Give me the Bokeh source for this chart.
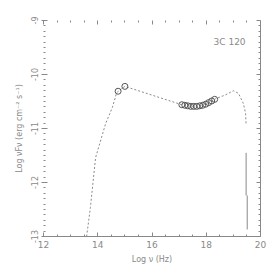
from bokeh.plotting import figure
from bokeh.models import LinearAxis, FixedTicker, Range1d, CustomJSTickFormatter
from bokeh.embed import file_html
from bokeh.resources import INLINE
from bokeh.core.properties import value

# SED model curve (log nu, log nuFnu)
curve_x = [13.59, 13.73, 13.92, 14.29, 14.54, 14.69, 14.75, 15.00, 17.10, 17.43, 17.76, 18.09, 18.34, 18.70, 19.00, 19.19, 19.37, 19.45, 19.47]
curve_y = [-13.0, -12.46, -11.54, -10.91, -10.61, -10.35, -10.31, -10.22, -10.56, -10.59, -10.58, -10.52, -10.45, -10.38, -10.30, -10.35, -10.54, -10.72, -10.94]

# observed points
obs_x = [14.75, 15.00, 17.10, 17.21, 17.32, 17.43, 17.54, 17.65, 17.76, 17.87, 17.98, 18.09, 18.20, 18.31]
obs_y = [-10.31, -10.22, -10.56, -10.57, -10.58, -10.59, -10.59, -10.59, -10.58, -10.57, -10.55, -10.52, -10.49, -10.46]

# vertical limit segments
lim_x0 = [19.47, 19.51]
lim_y0 = [-11.45, -12.24]
lim_x1 = [19.47, 19.51]
lim_y1 = [-12.24, -12.87]

x_major = [12, 14, 16, 18, 20]
x_minor = [12.5, 13, 13.5, 14.5, 15, 15.5, 16.5, 17, 17.5, 18.5, 19, 19.5]
y_major = [-13, -12, -11, -10, -9]
y_minor = [round(-13 + 0.1 * i, 2) for i in range(41) if i % 10 != 0]

source_name = "3C 120"

GRAY = "#888888"
LINE = "#8a8a8a"
TXT = "#8a8a8a"
FONT = "DejaVu Sans"

p = figure(width=270, height=270, output_backend="svg", toolbar_location=None,
           x_range=Range1d(12, 20), y_range=Range1d(-13, -9),
           min_border_left=43, min_border_right=10, min_border_top=20, min_border_bottom=34,
           x_axis_label="Log ν (Hz)", y_axis_label="Log νFν (erg cm⁻² s⁻¹)")
p.outline_line_color = None
p.xgrid.visible = False
p.ygrid.visible = False
p.background_fill_color = "white"
p.border_fill_color = "white"

p.line(curve_x, curve_y, line_color=LINE, line_width=1, line_dash="2 2")
p.segment(x0=lim_x0, y0=lim_y0, x1=lim_x1, y1=lim_y1, line_color=GRAY, line_width=1)
p.scatter(obs_x, obs_y, marker="circle", size=6, fill_color=None, line_color="#555555", line_width=1)
p.text(x=[19.45], y=[-9.39], text=[source_name], text_align="right", text_baseline="middle",
       text_font_size="9px", text_color=TXT, text_font=value(FONT))

xt = FixedTicker(ticks=x_major, minor_ticks=x_minor)
yt = FixedTicker(ticks=y_major, minor_ticks=y_minor)
blank = CustomJSTickFormatter(code="return '';")
hyphen = CustomJSTickFormatter(code="return tick.toString();")

for ax in p.xaxis:
    ax.ticker = xt
    ax.formatter = hyphen
for ax in p.yaxis:
    ax.ticker = yt
    ax.formatter = hyphen
    ax.major_label_orientation = "vertical"
    ax.axis_line_color = None

top = LinearAxis(ticker=xt, formatter=blank)
right = LinearAxis(ticker=yt, formatter=blank)
top.axis_line_color = None
p.add_layout(top, "above")
p.add_layout(right, "right")

for ax in p.axis:
    ax.major_tick_in = 4
    ax.major_tick_out = 0
    ax.minor_tick_in = 2
    ax.minor_tick_out = 0
    ax.major_tick_line_color = GRAY
    ax.minor_tick_line_color = GRAY
    if ax.axis_line_color is not None:
        ax.axis_line_color = GRAY
    ax.major_label_text_color = TXT
    ax.major_label_text_font = FONT
    ax.major_label_standoff = 4
    ax.axis_label_text_color = TXT
    ax.axis_label_text_font = FONT
    ax.axis_label_text_font_style = "normal"
    ax.axis_label_text_font_size = "8px"
    ax.axis_label_standoff = 4
    ax.major_label_text_font_size = "9px"

p.yaxis[0].major_label_text_font_size = "8px"
p.yaxis[0].major_tick_out = 2

open("out.html", "w").write(file_html(p, INLINE))
